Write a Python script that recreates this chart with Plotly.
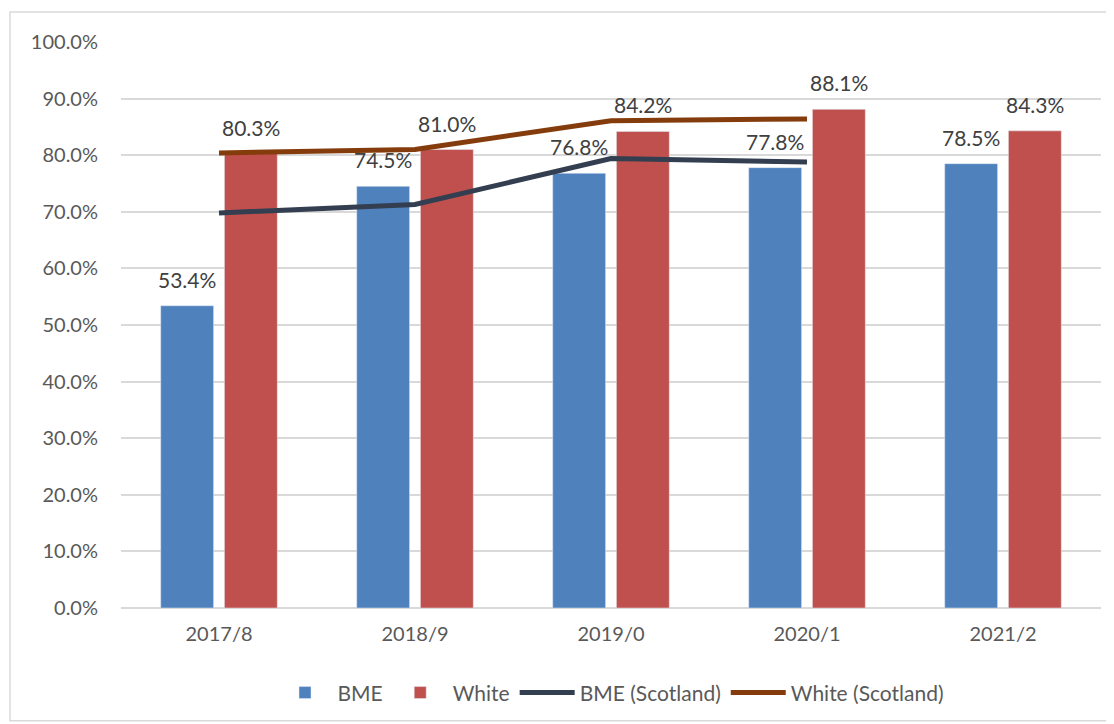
import plotly.graph_objects as go

years = ["2017/8", "2018/9", "2019/0", "2020/1", "2021/2"]
bme = [53.4, 74.5, 76.8, 77.8, 78.5]
white = [80.3, 81.0, 84.2, 88.1, 84.3]
scot_years = ["2017/8", "2018/9", "2019/0", "2020/1"]
bme_scotland = [69.8, 71.3, 79.4, 78.8]
white_scotland = [80.4, 81.0, 86.1, 86.4]
y_ticks = [0, 10, 20, 30, 40, 50, 60, 70, 80, 90, 100]

FONT = "Lato, 'Open Sans', sans-serif"

fig = go.Figure()
fig.add_trace(go.Bar(x=years, y=bme, name="BME", marker_color="#4F81BD"))
fig.add_trace(go.Bar(x=years, y=white, name="White", marker_color="#C0504D"))
fig.add_trace(go.Scatter(
    x=scot_years, y=bme_scotland, name="BME (Scotland)", mode="lines",
    line=dict(color="#333F50", width=5)
))
fig.add_trace(go.Scatter(
    x=scot_years, y=white_scotland, name="White (Scotland)", mode="lines",
    line=dict(color="#843C0C", width=5)
))

# data labels above the bars (Excel-style offset)
for series, shift in ((bme, -32), (white, 32)):
    for cat, v in zip(years, series):
        fig.add_annotation(x=cat, y=v, text=f"{v:.1f}%", showarrow=False,
                           xshift=shift, yshift=12, yanchor="bottom",
                           font=dict(size=21, color="#404040"))

# chart border
fig.add_shape(type="rect", xref="paper", yref="paper",
              x0=-0.1133, x1=1.0112, y0=-0.1993, y1=1.0529,
              line=dict(color="#D9D9D9", width=1.5), layer="below")

fig.update_layout(
    width=1106, height=716,
    margin=dict(l=113, r=13, t=34, b=115),
    paper_bgcolor="white", plot_bgcolor="white",
    barmode="group", bargap=0.35, bargroupgap=0.17,
    font=dict(family=FONT, color="#595959", size=20),
    showlegend=True,
    legend=dict(orientation="h", x=0.5, xanchor="center", y=-0.148, yanchor="middle",
                font=dict(size=21, color="#595959"), traceorder="normal",
                itemwidth=55),
    xaxis=dict(showgrid=False, showline=False, ticks="",
               tickfont=dict(size=20, color="#595959"), ticklabelstandoff=12),
    yaxis=dict(range=[0, 100], tickvals=y_ticks,
               ticktext=[f"{v:.1f}%" for v in y_ticks],
               showgrid=True, gridcolor="#D9D9D9", gridwidth=1.5,
               zeroline=True, zerolinecolor="#D9D9D9", zerolinewidth=1.5,
               tickfont=dict(size=20, color="#595959"), ticklabelstandoff=22),
)

fig.write_html("out.html")
